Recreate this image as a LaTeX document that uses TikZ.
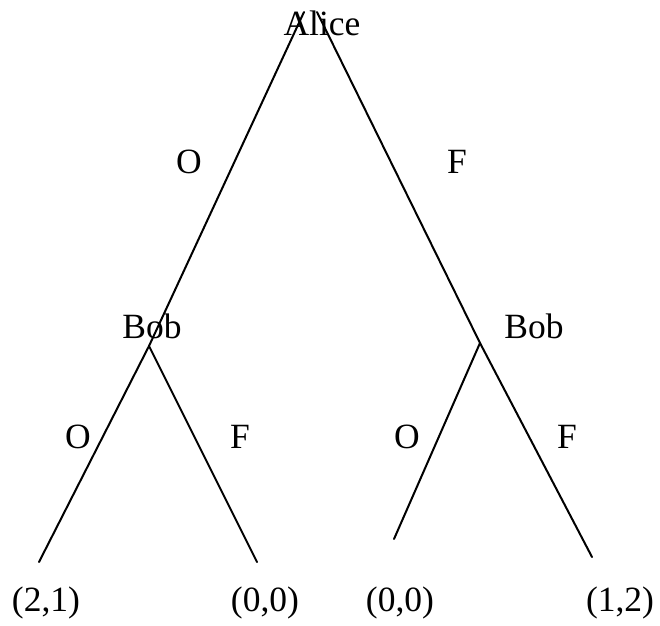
\documentclass[tikz,border=0pt]{standalone}
\usepackage{fontspec}
\setmainfont{Liberation Serif}
\begin{document}
\begin{tikzpicture}[x=1pt,y=-1pt,
  lbl/.style={font=\fontsize{35.5}{40}\selectfont, inner sep=0pt, anchor=base},
  branch/.style={line width=2pt, line cap=round}]
\useasboundingbox (0,0) rectangle (660,625);
% decision points and end points
\coordinate (topL) at (304,12);
\coordinate (topR) at (317,12);
\coordinate (bobL) at (149,346);
\coordinate (bobR) at (480,343);
\coordinate (leafA) at (39,562);
\coordinate (leafB) at (257,562);
\coordinate (leafC) at (394,539);
\coordinate (leafD) at (592,557);
% branches
\draw[branch] (topL) -- (bobL);
\draw[branch] (topR) -- (bobR);
\draw[branch] (bobL) -- (leafA);
\draw[branch] (bobL) -- (leafB);
\draw[branch] (bobR) -- (leafC);
\draw[branch] (bobR) -- (leafD);
% player names
\node[lbl] (alice) at (322,35) {Alice};
\node[lbl] (bob1) at (152,338) {Bob};
\node[lbl] (bob2) at (534,338) {Bob};
% actions
\node[lbl] (aO) at (189,173) {O};
\node[lbl] (aF) at (457,173) {F};
\node[lbl] (b1O) at (78,448) {O};
\node[lbl] (b1F) at (240,448) {F};
\node[lbl] (b2O) at (407,448) {O};
\node[lbl] (b2F) at (567,448) {F};
% payoffs
\node[lbl] (p1) at (46,611) {(2,1)};
\node[lbl] (p2) at (265,611) {(0,0)};
\node[lbl] (p3) at (400,611) {(0,0)};
\node[lbl] (p4) at (620,611) {(1,2)};
\end{tikzpicture}
\end{document}
